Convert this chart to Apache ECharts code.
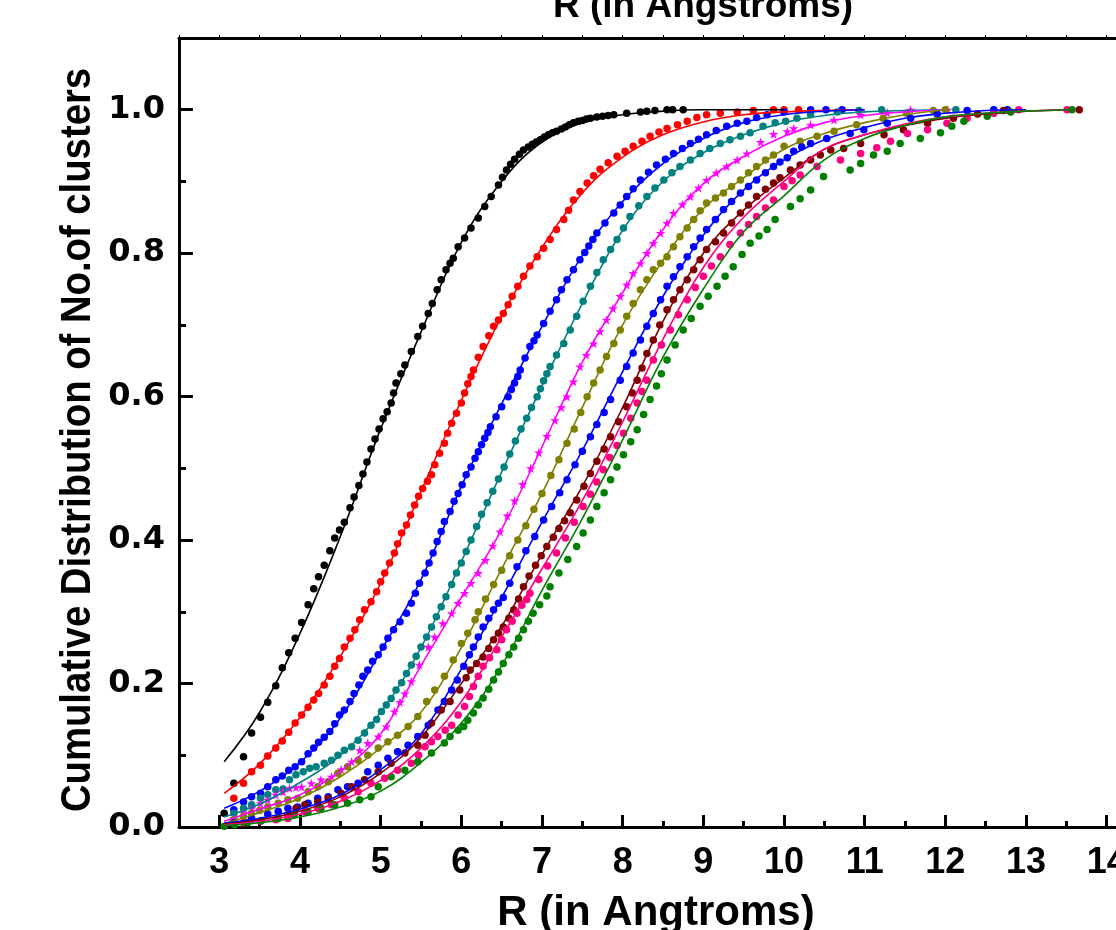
<!DOCTYPE html>
<html>
<head>
<meta charset="utf-8">
<script src="https://cdn.jsdelivr.net/npm/echarts@6/dist/echarts.min.js"></script>
<style>
html,body{margin:0;padding:0;background:#fff;}
#chart{width:1116px;height:930px;}
</style>
</head>
<body>
<div id="chart"></div>
<script>
// ---- data (R in Angstrom, cumulative fraction) ----
const seriesNames = ['S1','S2','S3','S4','S5','S6','S7','S8','S9','S10'];
const seriesColors = ['#000000','#FF0000','#0000FF','#008080','#FF00FF','#808000','#0000FF','#800000','#FF0080','#008000'];

const dotsBlack = [[3.06,0.019],[3.18,0.061],[3.30,0.098],[3.40,0.131],[3.51,0.153],[3.60,0.174],[3.70,0.197],[3.78,0.222],[3.86,0.243],[3.94,0.263],[4.02,0.285],[4.10,0.310],[4.17,0.332],[4.23,0.349],[4.30,0.365],[4.37,0.385],[4.43,0.403],[4.49,0.414],[4.55,0.425],[4.62,0.445],[4.67,0.460],[4.73,0.476],[4.78,0.492],[4.83,0.509],[4.88,0.527],[4.93,0.541],[4.98,0.555],[5.03,0.569],[5.08,0.579],[5.13,0.591],[5.16,0.605],[5.19,0.619],[5.25,0.632],[5.30,0.644],[5.38,0.663],[5.46,0.684],[5.52,0.698],[5.59,0.716],[5.64,0.730],[5.70,0.749],[5.75,0.763],[5.81,0.777],[5.86,0.786],[5.90,0.793],[5.96,0.809],[6.04,0.821],[6.12,0.835],[6.21,0.849],[6.29,0.865],[6.37,0.879],[6.46,0.895],[6.51,0.906],[6.56,0.916],[6.61,0.924],[6.66,0.931],[6.72,0.938],[6.77,0.944],[6.83,0.948],[6.88,0.952],[6.93,0.955],[6.98,0.958],[7.03,0.962],[7.08,0.965],[7.13,0.968],[7.18,0.970],[7.24,0.973],[7.29,0.976],[7.34,0.979],[7.39,0.982],[7.45,0.984],[7.50,0.985],[7.55,0.987],[7.60,0.988],[7.68,0.990],[7.75,0.991],[7.82,0.992],[7.89,0.993],[8.05,0.995],[8.22,0.997],[8.30,0.998],[8.40,0.999],[8.55,1.0],[8.62,1.0],[8.75,1.0]];
const dotsRed = [[3.18,0.040],[3.30,0.061],[3.40,0.077],[3.51,0.086],[3.60,0.099],[3.70,0.110],[3.78,0.120],[3.86,0.132],[3.94,0.145],[4.02,0.156],[4.10,0.167],[4.17,0.177],[4.23,0.186],[4.30,0.198],[4.37,0.210],[4.43,0.224],[4.49,0.235],[4.55,0.251],[4.62,0.263],[4.68,0.275],[4.74,0.289],[4.80,0.303],[4.88,0.314],[4.95,0.328],[5.00,0.342],[5.05,0.354],[5.11,0.368],[5.17,0.382],[5.21,0.395],[5.26,0.410],[5.32,0.421],[5.37,0.435],[5.42,0.449],[5.47,0.461],[5.52,0.472],[5.58,0.482],[5.63,0.491],[5.67,0.505],[5.73,0.521],[5.79,0.535],[5.83,0.549],[5.88,0.563],[5.94,0.577],[6.00,0.591],[6.04,0.605],[6.08,0.618],[6.12,0.628],[6.15,0.637],[6.21,0.655],[6.27,0.670],[6.34,0.685],[6.40,0.698],[6.46,0.707],[6.52,0.716],[6.58,0.728],[6.63,0.740],[6.70,0.754],[6.77,0.768],[6.85,0.782],[6.94,0.795],[7.02,0.807],[7.10,0.819],[7.18,0.833],[7.27,0.847],[7.33,0.860],[7.39,0.874],[7.47,0.886],[7.56,0.898],[7.64,0.908],[7.72,0.917],[7.82,0.926],[7.93,0.935],[8.03,0.942],[8.13,0.949],[8.24,0.956],[8.34,0.963],[8.45,0.969],[8.55,0.974],[8.68,0.979],[8.80,0.984],[8.92,0.989],[9.04,0.993],[9.21,0.995],[9.42,0.997],[9.62,0.999],[9.87,1.0],[10.0,1.0],[10.18,1.0]];
const dotsBlue1 = [[3.18,0.024],[3.30,0.035],[3.40,0.042],[3.51,0.047],[3.60,0.056],[3.70,0.066],[3.78,0.071],[3.86,0.079],[3.94,0.084],[4.02,0.091],[4.10,0.102],[4.17,0.110],[4.23,0.118],[4.30,0.125],[4.37,0.133],[4.43,0.144],[4.49,0.156],[4.55,0.163],[4.62,0.175],[4.67,0.186],[4.73,0.198],[4.78,0.210],[4.84,0.219],[4.90,0.231],[4.97,0.240],[5.03,0.251],[5.09,0.263],[5.16,0.275],[5.24,0.286],[5.32,0.298],[5.38,0.312],[5.43,0.326],[5.48,0.340],[5.55,0.354],[5.60,0.368],[5.65,0.382],[5.70,0.398],[5.75,0.412],[5.79,0.426],[5.86,0.440],[5.91,0.454],[5.96,0.465],[6.01,0.477],[6.06,0.491],[6.12,0.502],[6.17,0.514],[6.21,0.523],[6.25,0.533],[6.29,0.542],[6.33,0.550],[6.36,0.558],[6.43,0.572],[6.50,0.586],[6.58,0.600],[6.62,0.610],[6.66,0.619],[6.70,0.628],[6.73,0.637],[6.79,0.654],[6.85,0.670],[6.90,0.678],[6.94,0.686],[7.02,0.702],[7.10,0.719],[7.18,0.735],[7.24,0.749],[7.31,0.763],[7.39,0.777],[7.47,0.791],[7.53,0.801],[7.58,0.810],[7.63,0.819],[7.68,0.828],[7.78,0.842],[7.89,0.856],[7.97,0.867],[8.05,0.879],[8.13,0.890],[8.22,0.902],[8.32,0.913],[8.42,0.923],[8.53,0.931],[8.63,0.939],[8.74,0.946],[8.84,0.953],[8.94,0.959],[9.04,0.965],[9.16,0.971],[9.29,0.977],[9.42,0.981],[9.54,0.984],[9.66,0.989],[9.79,0.993],[10.0,0.997],[10.33,1.0],[10.52,1.0],[10.72,1.0]];
const dotsTeal = [[3.18,0.019],[3.30,0.026],[3.40,0.031],[3.51,0.040],[3.60,0.045],[3.70,0.052],[3.79,0.053],[3.87,0.066],[3.95,0.073],[4.04,0.077],[4.12,0.082],[4.20,0.084],[4.30,0.089],[4.39,0.093],[4.47,0.100],[4.55,0.107],[4.64,0.112],[4.72,0.121],[4.80,0.131],[4.88,0.142],[4.95,0.150],[5.01,0.161],[5.07,0.170],[5.13,0.179],[5.19,0.191],[5.26,0.201],[5.32,0.214],[5.38,0.226],[5.44,0.238],[5.50,0.251],[5.57,0.265],[5.63,0.279],[5.69,0.293],[5.75,0.307],[5.81,0.321],[5.88,0.338],[5.94,0.354],[6.00,0.368],[6.06,0.384],[6.12,0.400],[6.19,0.419],[6.25,0.436],[6.32,0.452],[6.39,0.468],[6.46,0.485],[6.53,0.502],[6.60,0.520],[6.67,0.538],[6.74,0.555],[6.81,0.570],[6.87,0.585],[6.94,0.600],[6.98,0.611],[7.02,0.622],[7.06,0.632],[7.10,0.642],[7.18,0.658],[7.27,0.674],[7.35,0.693],[7.43,0.712],[7.51,0.733],[7.60,0.754],[7.68,0.773],[7.76,0.791],[7.85,0.805],[7.93,0.819],[8.01,0.835],[8.09,0.851],[8.20,0.866],[8.30,0.879],[8.40,0.891],[8.51,0.902],[8.61,0.912],[8.71,0.921],[8.84,0.930],[8.96,0.939],[9.08,0.946],[9.21,0.953],[9.33,0.958],[9.46,0.963],[9.58,0.968],[9.74,0.977],[9.89,0.982],[10.02,0.984],[10.16,0.988],[10.33,0.993],[10.66,0.997],[10.93,0.999],[11.21,1.0],[12.13,1.0]];
const starsMagenta = [[3.18,0.012],[3.30,0.020],[3.40,0.026],[3.51,0.033],[3.60,0.038],[3.70,0.045],[3.79,0.049],[3.87,0.054],[3.95,0.055],[4.02,0.056],[4.14,0.061],[4.26,0.066],[4.39,0.070],[4.51,0.080],[4.64,0.091],[4.74,0.107],[4.84,0.117],[4.97,0.126],[5.07,0.140],[5.17,0.161],[5.24,0.174],[5.30,0.186],[5.38,0.203],[5.48,0.226],[5.59,0.251],[5.67,0.265],[5.77,0.284],[5.88,0.298],[5.96,0.312],[6.04,0.326],[6.12,0.340],[6.21,0.354],[6.30,0.372],[6.39,0.392],[6.48,0.412],[6.57,0.434],[6.66,0.455],[6.76,0.478],[6.86,0.500],[6.96,0.522],[7.06,0.545],[7.16,0.567],[7.24,0.585],[7.31,0.600],[7.39,0.621],[7.47,0.642],[7.55,0.658],[7.64,0.674],[7.72,0.691],[7.80,0.707],[7.88,0.723],[7.97,0.740],[8.05,0.756],[8.13,0.772],[8.22,0.786],[8.30,0.800],[8.38,0.814],[8.47,0.828],[8.55,0.842],[8.63,0.856],[8.74,0.868],[8.84,0.879],[8.94,0.891],[9.04,0.902],[9.16,0.912],[9.29,0.921],[9.42,0.930],[9.54,0.939],[9.71,0.955],[9.87,0.966],[10.04,0.970],[10.12,0.974],[10.33,0.979],[10.62,0.986],[10.95,0.993],[11.28,0.996],[11.57,1.0],[12.03,1.0]];
const dotsOlive = [[3.18,0.010],[3.30,0.015],[3.40,0.019],[3.50,0.023],[3.60,0.028],[3.73,0.033],[3.85,0.038],[3.97,0.040],[4.10,0.049],[4.22,0.056],[4.35,0.063],[4.47,0.075],[4.59,0.084],[4.72,0.093],[4.84,0.100],[4.97,0.110],[5.09,0.119],[5.21,0.128],[5.34,0.140],[5.46,0.154],[5.57,0.175],[5.67,0.191],[5.79,0.210],[5.90,0.233],[6.00,0.256],[6.08,0.270],[6.17,0.289],[6.21,0.300],[6.30,0.318],[6.40,0.338],[6.50,0.358],[6.60,0.378],[6.70,0.400],[6.80,0.420],[6.90,0.443],[7.00,0.465],[7.11,0.490],[7.21,0.512],[7.31,0.535],[7.40,0.555],[7.48,0.578],[7.56,0.600],[7.64,0.619],[7.72,0.637],[7.80,0.656],[7.89,0.674],[7.97,0.693],[8.05,0.712],[8.13,0.730],[8.22,0.749],[8.30,0.763],[8.38,0.777],[8.47,0.786],[8.55,0.795],[8.63,0.809],[8.71,0.823],[8.80,0.835],[8.88,0.847],[8.96,0.859],[9.04,0.870],[9.15,0.877],[9.25,0.884],[9.35,0.893],[9.46,0.902],[9.56,0.912],[9.66,0.921],[9.77,0.930],[9.87,0.937],[10.0,0.949],[10.20,0.956],[10.41,0.963],[10.62,0.970],[10.90,0.979],[11.23,0.988],[11.52,0.995],[11.85,0.999],[12.0,1.0]];
const dotsBlue2 = [[3.18,0.006],[3.40,0.012],[3.60,0.018],[3.73,0.022],[3.85,0.026],[3.97,0.028],[4.10,0.033],[4.22,0.040],[4.35,0.042],[4.47,0.052],[4.59,0.056],[4.72,0.061],[4.84,0.077],[4.97,0.086],[5.09,0.096],[5.21,0.105],[5.34,0.114],[5.46,0.126],[5.59,0.142],[5.71,0.163],[5.79,0.175],[5.88,0.191],[5.95,0.205],[6.03,0.224],[6.10,0.240],[6.15,0.251],[6.21,0.265],[6.27,0.279],[6.34,0.291],[6.40,0.303],[6.46,0.312],[6.52,0.320],[6.60,0.340],[6.69,0.363],[6.80,0.385],[6.91,0.405],[7.02,0.428],[7.12,0.447],[7.22,0.466],[7.31,0.484],[7.41,0.505],[7.50,0.524],[7.60,0.544],[7.68,0.561],[7.77,0.578],[7.85,0.596],[7.97,0.623],[8.05,0.642],[8.13,0.661],[8.22,0.679],[8.30,0.698],[8.38,0.716],[8.47,0.735],[8.55,0.754],[8.63,0.767],[8.71,0.781],[8.80,0.795],[8.88,0.809],[8.96,0.821],[9.04,0.833],[9.15,0.847],[9.25,0.861],[9.35,0.872],[9.46,0.884],[9.56,0.893],[9.66,0.902],[9.77,0.912],[9.87,0.921],[9.95,0.927],[10.04,0.933],[10.12,0.942],[10.22,0.948],[10.33,0.953],[10.53,0.960],[10.82,0.967],[10.99,0.972],[11.28,0.981],[11.57,0.988],[11.90,0.994],[12.27,0.999],[12.60,1.0],[12.77,1.0]];
const dotsMaroon = [[3.85,0.017],[3.95,0.026],[4.06,0.031],[4.22,0.035],[4.35,0.040],[4.51,0.047],[4.64,0.056],[4.80,0.066],[4.97,0.077],[5.13,0.089],[5.30,0.103],[5.46,0.114],[5.55,0.128],[5.63,0.145],[5.75,0.163],[5.86,0.175],[5.98,0.191],[6.06,0.208],[6.11,0.219],[6.19,0.228],[6.27,0.237],[6.34,0.249],[6.40,0.261],[6.46,0.270],[6.52,0.279],[6.59,0.291],[6.65,0.303],[6.71,0.318],[6.77,0.335],[6.84,0.350],[6.92,0.365],[6.99,0.378],[7.06,0.391],[7.14,0.404],[7.21,0.416],[7.28,0.427],[7.35,0.438],[7.43,0.456],[7.52,0.475],[7.60,0.493],[7.68,0.510],[7.77,0.527],[7.85,0.544],[7.95,0.565],[8.05,0.586],[8.12,0.605],[8.18,0.623],[8.24,0.640],[8.30,0.660],[8.38,0.679],[8.46,0.700],[8.55,0.721],[8.63,0.735],[8.71,0.749],[8.80,0.763],[8.88,0.777],[8.96,0.791],[9.04,0.805],[9.15,0.816],[9.25,0.828],[9.35,0.842],[9.46,0.856],[9.56,0.867],[9.66,0.879],[9.77,0.889],[9.87,0.898],[9.95,0.905],[10.08,0.916],[10.20,0.923],[10.33,0.930],[10.45,0.937],[10.58,0.944],[10.74,0.946],[10.95,0.953],[11.24,0.965],[11.48,0.972],[11.78,0.981],[12.10,0.988],[12.40,0.994],[12.72,0.999],[13.66,1.0]];
const dotsPink = [[3.30,0.006],[3.51,0.008],[3.70,0.010],[3.85,0.012],[4.06,0.021],[4.22,0.026],[4.39,0.031],[4.55,0.040],[4.72,0.049],[4.88,0.061],[5.05,0.068],[5.21,0.079],[5.38,0.089],[5.47,0.100],[5.55,0.112],[5.63,0.119],[5.71,0.126],[5.80,0.135],[5.88,0.142],[5.96,0.156],[6.04,0.168],[6.10,0.182],[6.15,0.196],[6.21,0.210],[6.27,0.224],[6.35,0.236],[6.44,0.247],[6.50,0.261],[6.56,0.275],[6.63,0.287],[6.69,0.298],[6.75,0.309],[6.81,0.317],[6.85,0.326],[6.96,0.345],[7.07,0.364],[7.18,0.382],[7.29,0.403],[7.40,0.425],[7.51,0.447],[7.60,0.464],[7.68,0.481],[7.76,0.498],[7.84,0.515],[7.93,0.532],[8.01,0.549],[8.10,0.570],[8.18,0.591],[8.24,0.607],[8.30,0.623],[8.38,0.651],[8.48,0.672],[8.59,0.693],[8.69,0.714],[8.80,0.735],[8.90,0.752],[9.00,0.768],[9.10,0.782],[9.21,0.795],[9.33,0.812],[9.46,0.828],[9.56,0.840],[9.66,0.851],[9.77,0.863],[9.87,0.874],[10.0,0.893],[10.10,0.901],[10.20,0.909],[10.41,0.921],[10.70,0.930],[10.95,0.939],[11.15,0.947],[11.32,0.956],[11.53,0.967],[11.78,0.972],[12.02,0.981],[12.27,0.988],[12.60,0.995],[12.91,1.0],[13.51,1.0]];
const dotsGreen = [[3.06,0.001],[3.19,0.003],[3.35,0.006],[3.52,0.009],[3.73,0.012],[3.93,0.017],[4.10,0.021],[4.26,0.026],[4.43,0.031],[4.59,0.033],[4.74,0.038],[4.88,0.042],[4.97,0.056],[5.13,0.070],[5.30,0.079],[5.46,0.091],[5.63,0.103],[5.79,0.117],[5.86,0.126],[5.96,0.135],[6.03,0.140],[6.08,0.149],[6.15,0.159],[6.21,0.170],[6.27,0.180],[6.34,0.192],[6.40,0.205],[6.46,0.216],[6.52,0.228],[6.59,0.240],[6.65,0.251],[6.71,0.263],[6.77,0.275],[6.83,0.287],[6.89,0.298],[6.97,0.310],[7.06,0.322],[7.10,0.335],[7.21,0.354],[7.32,0.373],[7.43,0.391],[7.51,0.410],[7.60,0.428],[7.68,0.447],[7.77,0.466],[7.85,0.484],[7.93,0.502],[8.01,0.519],[8.10,0.537],[8.18,0.554],[8.26,0.575],[8.34,0.596],[8.42,0.615],[8.48,0.632],[8.55,0.651],[8.65,0.672],[8.75,0.693],[8.85,0.709],[8.96,0.726],[9.06,0.740],[9.17,0.754],[9.27,0.768],[9.37,0.781],[9.48,0.798],[9.58,0.814],[9.69,0.824],[9.79,0.833],[9.89,0.847],[10.08,0.865],[10.20,0.876],[10.33,0.888],[10.49,0.907],[10.82,0.916],[10.95,0.925],[11.11,0.937],[11.28,0.942],[11.44,0.953],[11.69,0.960],[11.94,0.968],[12.08,0.977],[12.23,0.984],[12.52,0.991],[12.81,0.997],[13.57,1.0]];

// fitted curves sampled at common R values
const fitR = [3.06,3.5,4,4.5,5,5.5,6,6.5,7,7.5,8,8.5,9,9.5,10,10.5,11,11.5,12,12.5,13,13.6];
const fitBlack   = [0.091,0.160,0.270,0.405,0.555,0.690,0.815,0.900,0.955,0.982,0.993,0.998,1.0,1.0,1.0,null,null,null,null,null,null,null];
const fitRed     = [0.047,0.088,0.153,0.238,0.340,0.468,0.595,0.712,0.808,0.884,0.934,0.965,0.983,0.993,0.997,0.999,1.0,null,null,null,null,null];
const fitBlue1   = [0.026,0.050,0.090,0.152,0.245,0.345,0.475,0.590,0.698,0.797,0.872,0.925,0.960,0.982,0.993,0.998,1.0,null,null,null,null,null];
const fitTeal    = [0.014,0.032,0.062,0.100,0.160,0.250,0.370,0.495,0.615,0.730,0.832,0.900,0.940,0.965,0.982,0.992,0.997,0.999,1.0,null,null,null];
const fitMagenta = [0.008,0.025,0.045,0.078,0.130,0.225,0.320,0.415,0.530,0.648,0.745,0.833,0.897,0.935,0.963,0.982,0.992,0.997,1.0,null,null,null];
const fitOlive   = [0.005,0.020,0.040,0.070,0.110,0.160,0.250,0.360,0.465,0.585,0.700,0.790,0.862,0.905,0.945,0.967,0.982,0.993,1.0,null,null,null];
const fitBlue2   = [0.005,0.012,0.025,0.045,0.080,0.130,0.220,0.320,0.425,0.525,0.635,0.740,0.825,0.888,0.930,0.958,0.975,0.988,0.995,0.999,1.0,null];
const fitMaroon  = [0.004,0.010,0.022,0.042,0.075,0.125,0.200,0.280,0.380,0.475,0.585,0.705,0.800,0.860,0.905,0.945,0.965,0.978,0.988,0.994,0.998,1.0];
const fitPink    = [0.003,0.008,0.018,0.036,0.065,0.110,0.175,0.265,0.360,0.455,0.565,0.680,0.780,0.850,0.900,0.945,0.965,0.980,0.990,0.995,0.998,1.0];
const fitGreen   = [0.002,0.006,0.014,0.028,0.050,0.090,0.145,0.225,0.330,0.430,0.540,0.655,0.750,0.830,0.880,0.930,0.960,0.978,0.990,0.995,0.998,1.0];

const xTicksMin = 2.5, xTicksMax = 14.5;
const yTicksMin = 0, yTicksMax = 1.1, yTickStep = 0.2;

const titleText = 'R (in Angstroms)';
const xTitle = 'R (in Angtroms)';
const yTitle = 'Cumulative Distribution of No.of clusters';

// ---- build ----
const dotSets = [dotsBlack, dotsRed, dotsBlue1, dotsTeal, starsMagenta, dotsOlive, dotsBlue2, dotsMaroon, dotsPink, dotsGreen];
const fitSets = [fitBlack, fitRed, fitBlue1, fitTeal, fitMagenta, fitOlive, fitBlue2, fitMaroon, fitPink, fitGreen];
const starPath = 'path://M50,0 L61,35 L98,35 L68,57 L79,91 L50,70 L21,91 L32,57 L2,35 L39,35 Z';

const series = [];
dotSets.forEach((d, i) => {
  const isStar = i === 4;
  series.push({
    name: seriesNames[i], type: 'scatter', data: d,
    symbol: isStar ? starPath : 'circle',
    symbolSize: isStar ? 9.5 : 7.5,
    itemStyle: { color: seriesColors[i], opacity: 1 },
    z: 2 + i * 0.01, silent: true
  });
});
fitSets.forEach((f, i) => {
  series.push({
    name: seriesNames[i] + ' fit', type: 'line', smooth: 0.4,
    data: fitR.map((r, k) => [r, f[k]]).filter(p => p[1] !== null),
    showSymbol: false, symbol: 'none',
    lineStyle: { color: seriesColors[i], width: 1.6 },
    z: 3 + i * 0.01, silent: true
  });
});

const chart = echarts.init(document.getElementById('chart'), null, { renderer: 'canvas' });
const sans = '"Liberation Sans", Arial, sans-serif';
chart.setOption({
  animation: false,
  backgroundColor: '#ffffff',
  grid: { left: 179, top: 38, width: 968, height: 789, containLabel: false, outerBoundsMode: 'none' },
  graphic: [{
    type: 'text', x: 703, y: 7,
    style: { text: titleText, fill: '#000', font: 'bold 37px ' + sans, textAlign: 'center', textVerticalAlign: 'middle' }
  }, {
    type: 'text', x: 656, y: 913,
    style: { text: xTitle, fill: '#000', font: 'bold 42px ' + sans, textAlign: 'center', textVerticalAlign: 'middle' }
  }, {
    type: 'text', x: 78, y: 440, rotation: Math.PI / 2, scaleX: 0.89,
    style: { text: yTitle, fill: '#000', font: 'bold 43px ' + sans, textAlign: 'center', textVerticalAlign: 'middle' }
  }],
  xAxis: [{
    type: 'value', min: xTicksMin, max: xTicksMax, splitNumber: 12,
    axisLine: { show: true, onZero: false, lineStyle: { color: '#000', width: 3 } },
    axisTick: { show: true, inside: true, length: 12, lineStyle: { color: '#000', width: 3 } },
    minorTick: { show: true, splitNumber: 2, length: 6, lineStyle: { color: '#000', width: 3 } },
    splitLine: { show: false },
    axisLabel: {
      color: '#000', fontSize: 36, fontWeight: 'bold', fontFamily: sans, margin: 18,
      showMinLabel: false, showMaxLabel: false,
      formatter: v => (Math.abs(v - Math.round(v)) < 1e-6 ? String(Math.round(v)) : '')
    }
  }, {
    type: 'value', position: 'top', min: xTicksMin, max: xTicksMax, splitNumber: 12,
    axisLine: { show: true, onZero: false, lineStyle: { color: '#000', width: 3 } },
    axisTick: { show: true, inside: false, length: 3, lineStyle: { color: '#000', width: 1 } },
    minorTick: { show: true, splitNumber: 2, length: 3, lineStyle: { color: '#000', width: 1 } },
    axisLabel: { show: false }, splitLine: { show: false }
  }],
  yAxis: [{
    type: 'value', min: yTicksMin, max: yTicksMax, interval: yTickStep,
    axisLine: { show: true, onZero: false, lineStyle: { color: '#000', width: 3 } },
    axisTick: { show: true, inside: true, length: 14, lineStyle: { color: '#000', width: 3 } },
    minorTick: { show: true, splitNumber: 2, length: 7, lineStyle: { color: '#000', width: 3 } },
    splitLine: { show: false },
    axisLabel: {
      color: '#000', fontSize: 32, fontWeight: 'bold', fontFamily: '"DejaVu Sans", Arial, sans-serif', margin: 14,
      formatter: v => (v > 1.05 ? '' : v.toFixed(1))
    }
  }],
  series: series
});
</script>
</body>
</html>
